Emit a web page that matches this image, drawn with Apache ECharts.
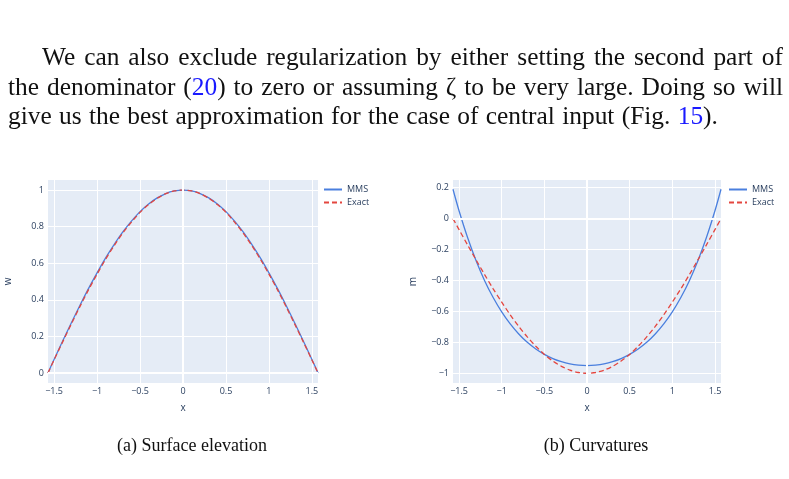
<!DOCTYPE html>
<html>
<head>
<meta charset="utf-8">
<script src="https://cdn.jsdelivr.net/npm/echarts@6/dist/echarts.min.js"></script>
<style>
html, body { margin: 0; padding: 0; background: #fff; }
#main { width: 789px; height: 479px; }
</style>
</head>
<body>
<div id="main"></div>
<script>
// x positions
const xs = [-1.571, -1.5, -1.4, -1.3, -1.2, -1.1, -1.0, -0.9, -0.8, -0.7, -0.6, -0.5, -0.4, -0.3, -0.2, -0.1, 0,
    0.1, 0.2, 0.3, 0.4, 0.5, 0.6, 0.7, 0.8, 0.9, 1.0, 1.1, 1.2, 1.3, 1.4, 1.5, 1.571];

// (a) surface elevation
const wMMS = [0, 0.074, 0.175, 0.273, 0.369, 0.461, 0.547, 0.629, 0.703, 0.771, 0.830, 0.882, 0.924, 0.957, 0.981, 0.995, 1,
    0.995, 0.981, 0.957, 0.924, 0.882, 0.830, 0.771, 0.703, 0.629, 0.547, 0.461, 0.369, 0.273, 0.175, 0.074, 0];
const wExact = [0, 0.071, 0.170, 0.267, 0.362, 0.454, 0.540, 0.622, 0.697, 0.765, 0.825, 0.878, 0.921, 0.955, 0.980, 0.995, 1,
    0.995, 0.980, 0.955, 0.921, 0.878, 0.825, 0.765, 0.697, 0.622, 0.540, 0.454, 0.362, 0.267, 0.170, 0.071, 0];

// (b) curvatures
const mMMS = [0.190, 0.051, -0.122, -0.272, -0.401, -0.510, -0.603, -0.681, -0.746, -0.800, -0.843, -0.878, -0.905, -0.925, -0.939, -0.947, -0.950,
    -0.947, -0.939, -0.925, -0.905, -0.878, -0.843, -0.800, -0.746, -0.681, -0.603, -0.510, -0.401, -0.272, -0.122, 0.051, 0.190];
const mExact = [0, -0.071, -0.170, -0.267, -0.362, -0.454, -0.540, -0.622, -0.697, -0.765, -0.825, -0.878, -0.921, -0.955, -0.980, -0.995, -1,
    -0.995, -0.980, -0.955, -0.921, -0.878, -0.825, -0.765, -0.697, -0.622, -0.540, -0.454, -0.362, -0.267, -0.170, -0.071, 0];

// tick labels
const xTicks = [-1.5, -1, -0.5, 0, 0.5, 1, 1.5];
const wTicks = [0, 0.2, 0.4, 0.6, 0.8, 1];
const mTicks = [-1, -0.8, -0.6, -0.4, -0.2, 0, 0.2];

// page text around the figure
const paraLines = [
    [['We'], ['can'], ['also'], ['exclude'], ['regularization'], ['by'], ['either'], ['setting'], ['the'], ['second'], ['part'], ['of']],
    [['the'], ['denominator'], ['(', '20', ')'], ['to'], ['zero'], ['or'], ['assuming'], ['ζ'], ['to'], ['be'], ['very'], ['large.'], ['Doing'], ['so'], ['will']],
    [['give'], ['us'], ['the'], ['best'], ['approximation'], ['for'], ['the'], ['case'], ['of'], ['central'], ['input'], ['(Fig.'], ['15', ').']]
];
const captionA = '(a) Surface elevation';
const captionB = '(b) Curvatures';

const ink = '#2a3f5f';
const blue = '#4a7fde';
const red = '#e4463f';
const serif = '"Liberation Serif", "DejaVu Serif", serif';

function minus(v) {
    return String(v).replace('-', '\u2212');
}

let ctx = document.createElement('canvas').getContext('2d');

function wordWidth(w) {
    return w.reduce((s, seg) => s + ctx.measureText(seg).width, 0);
}

// size the body font so the last (ragged) line ends where the page's does
ctx.font = '22px ' + serif;
let spaceRatio = 1.15;
let last = paraLines[2];
let natural = last.reduce((s, w) => s + wordWidth(w), 0) + ctx.measureText(' ').width * spaceRatio * (last.length - 1);
let bodySize = 22 * 710 / natural;
let bodyFont = bodySize.toFixed(2) + 'px ' + serif;
ctx.font = bodyFont;

// lay out one line word by word
function textLine(words, x0, x1, y, justify) {
    let widths = words.map(wordWidth);
    let total = widths.reduce((a, b) => a + b, 0);
    let gap = justify ? (x1 - x0 - total) / (words.length - 1) : ctx.measureText(' ').width * spaceRatio;
    let out = [];
    let x = x0;
    words.forEach((w, i) => {
        let sx = x;
        w.forEach(seg => {
            let isBlue = /^\d+$/.test(seg);
            out.push({
                type: 'text', x: sx, y: y, silent: true,
                style: {text: seg, font: bodyFont, fill: isBlue ? '#1a1aff' : '#111', verticalAlign: 'middle'}
            });
            sx += ctx.measureText(seg).width;
        });
        x += widths[i] + gap;
    });
    return out;
}

let graphics = [];
graphics = graphics.concat(textLine(paraLines[0], 42, 783, 58, true));
graphics = graphics.concat(textLine(paraLines[1], 8, 783, 88, true));
graphics = graphics.concat(textLine(paraLines[2], 8, 783, 117, false));
graphics.push({
    type: 'text', x: 192, y: 446, silent: true,
    style: {text: captionA, font: '18px ' + serif, fill: '#111', align: 'center', verticalAlign: 'middle'}
});
graphics.push({
    type: 'text', x: 596, y: 446, silent: true,
    style: {text: captionB, font: '18px ' + serif, fill: '#111', align: 'center', verticalAlign: 'middle'}
});

function xAxisCfg(gridIndex) {
    return {
        type: 'value', gridIndex: gridIndex, min: -1.5708, max: 1.5708,
        name: 'x', nameLocation: 'middle', nameGap: 20,
        nameTextStyle: {color: ink, fontSize: 10, fontFamily: 'Open Sans'},
        axisLine: {show: false},
        axisTick: {show: false, customValues: xTicks},
        axisLabel: {customValues: xTicks, formatter: minus, color: ink, fontSize: 9, fontFamily: 'Open Sans', margin: 4},
        splitLine: {show: true, lineStyle: {color: '#fff', width: 1}}
    };
}

function yAxisCfg(gridIndex, name, min, max, ticks) {
    return {
        type: 'value', gridIndex: gridIndex, min: min, max: max,
        name: name, nameLocation: 'middle', nameGap: 35,
        nameTextStyle: {color: ink, fontSize: 10, fontFamily: 'Open Sans'},
        axisLine: {show: false},
        axisTick: {show: false, customValues: ticks},
        axisLabel: {customValues: ticks, formatter: minus, color: ink, fontSize: 9, fontFamily: 'Open Sans', margin: 4},
        splitLine: {show: true, lineStyle: {color: '#fff', width: 1}}
    };
}

function zeroLines(xi, yi) {
    return {
        type: 'line', xAxisIndex: xi, yAxisIndex: yi, data: [], silent: true, z: 1,
        markLine: {
            silent: true, symbol: 'none', label: {show: false},
            lineStyle: {color: '#fff', width: 2, type: 'solid'},
            data: [{xAxis: 0}, {yAxis: 0}]
        }
    };
}

function curve(name, xi, yi, values, color, dashed) {
    return {
        name: name, type: 'line', xAxisIndex: xi, yAxisIndex: yi, z: 3,
        data: xs.map((x, i) => [x, values[i]]),
        symbol: 'none', smooth: 0.3,
        lineStyle: {color: color, width: 1.3, type: dashed ? [5, 3] : 'solid'},
        itemStyle: {color: color}
    };
}

let legendCfg = left => ({
    left: left, top: 185, orient: 'vertical', padding: 0, itemGap: 4,
    itemWidth: 18, itemHeight: 10, selectedMode: false,
    itemStyle: {opacity: 0},
    data: ['MMS', 'Exact'],
    textStyle: {color: ink, fontSize: 9, fontFamily: 'Open Sans'}
});

let chart = echarts.init(document.getElementById('main'), null, {renderer: 'canvas'});
chart.setOption({
    backgroundColor: '#fff',
    animation: false,
    grid: [
        {left: 48, top: 180, width: 270, height: 203, show: true, backgroundColor: '#e5ecf6', borderWidth: 0},
        {left: 453, top: 180, width: 268, height: 203, show: true, backgroundColor: '#e5ecf6', borderWidth: 0}
    ],
    legend: [legendCfg(323), legendCfg(728)],
    xAxis: [xAxisCfg(0), xAxisCfg(1)],
    yAxis: [
        yAxisCfg(0, 'w', -0.055, 1.055, wTicks),
        yAxisCfg(1, 'm', -1.063, 0.25, mTicks)
    ],
    series: [
        zeroLines(0, 0),
        zeroLines(1, 1),
        curve('MMS', 0, 0, wMMS, blue, false),
        curve('Exact', 0, 0, wExact, red, true),
        curve('MMS', 1, 1, mMMS, blue, false),
        curve('Exact', 1, 1, mExact, red, true)
    ],
    graphic: graphics
});
</script>
</body>
</html>
